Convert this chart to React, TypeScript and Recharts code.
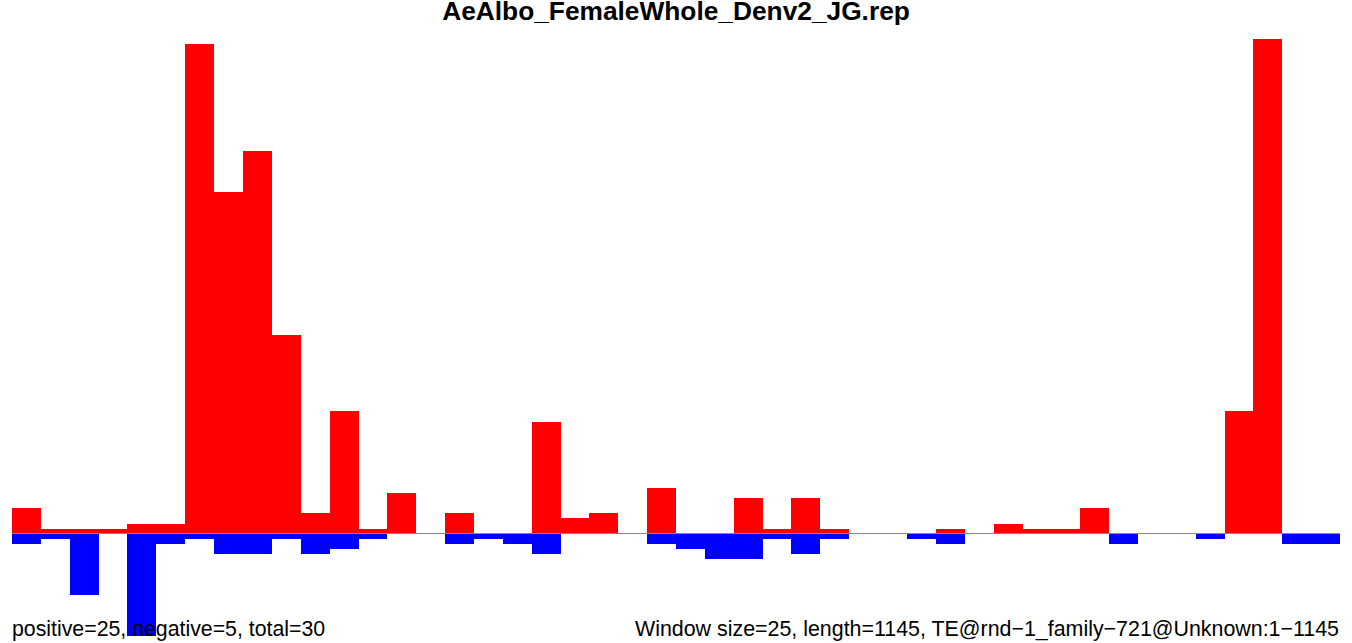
import { Bar, BarChart, ReferenceLine, XAxis, YAxis } from 'recharts'

// one value per 25 bp window along the 1145 bp element
const windows = Array.from({ length: 46 }, (_, i) => i + 1)

const positive = [
  5, 1, 1, 1, 2, 2, 96, 67, 75, 39,
  4, 24, 1, 8, 0, 4, 0, 0, 22, 3,
  4, 0, 9, 0, 0, 7, 1, 7, 1, 0,
  0, 0, 1, 0, 2, 1, 1, 5, 0, 0,
  0, 0, 24, 97, 0, 0,
]

const negative = [
  2, 1, 12, 0, 20, 2, 1, 4, 4, 1,
  4, 3, 1, 0, 0, 2, 1, 2, 4, 0,
  0, 0, 2, 3, 5, 5, 1, 4, 1, 0,
  0, 1, 2, 0, 0, 0, 0, 0, 2, 0,
  0, 1, 0, 0, 2, 2,
]

const title = 'AeAlbo_FemaleWhole_Denv2_JG.rep'
const leftNote = 'positive=25, negative=5, total=30'
const rightNote = 'Window size=25, length=1145, TE@rnd\u22121_family\u2212721@Unknown:1\u22121145'

const W = 1352
const H = 643
const font = '"Liberation Sans", Arial, Helvetica, sans-serif'

export default function App() {
  const chartData = windows.map((w, i) => ({
    win: w,
    pos: positive[i],
    neg: -negative[i],
  }))

  return (
    <div
      style={{
        position: 'absolute',
        left: 0,
        top: 0,
        width: W,
        height: H,
        background: '#fff',
        overflow: 'hidden',
        shapeRendering: 'crispEdges',
      }}
    >
      <BarChart
        width={W}
        height={H}
        data={chartData}
        stackOffset="sign"
        barCategoryGap={0}
        barGap={0}
        margin={{ top: 39, right: 12, bottom: 0, left: 12 }}
      >
        <XAxis dataKey="win" hide />
        <YAxis hide domain={[-21.43, 97]} allowDataOverflow />
        <ReferenceLine y={0} stroke="#888888" strokeWidth={1} />
        <Bar dataKey="pos" stackId="s" fill="#ff0000" isAnimationActive={false} />
        <Bar dataKey="neg" stackId="s" fill="#0000ff" isAnimationActive={false} />
      </BarChart>
      <svg width={W} height={H} style={{ position: 'absolute', left: 0, top: 0, pointerEvents: 'none' }}>
        <text x={676} y={20} textAnchor="middle" fontFamily={font} fontWeight="bold" fontSize={26.3} fill="#000">
          {title}
        </text>
        <text x={12} y={636} fontFamily={font} fontSize={21.3} fill="#000">
          {leftNote}
        </text>
        <text x={1339} y={636} textAnchor="end" fontFamily={font} fontSize={21.4} fill="#000">
          {rightNote}
        </text>
      </svg>
    </div>
  )
}
